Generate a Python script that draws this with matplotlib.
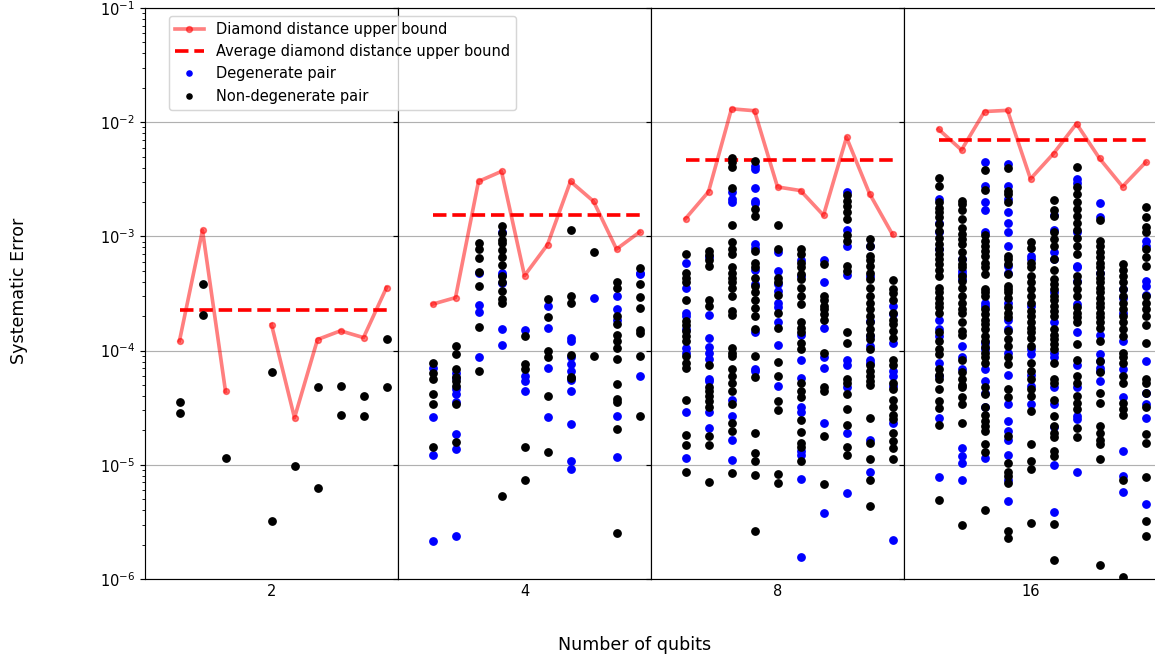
import numpy as np
import matplotlib
matplotlib.use("Agg")
import matplotlib.pyplot as plt
from matplotlib.lines import Line2D

qubits = ["2", "4", "8", "16"]
n_pairs = 10

# Diamond distance upper bound per pair (nan = missing)
bound_q2 = [1.22e-4, 1.13e-3, 4.4e-5, np.nan, 1.69e-4, 2.58e-5, 1.25e-4, 1.49e-4, 1.30e-4, 3.56e-4]
bound_q4 = [2.55e-4, 2.91e-4, 3.03e-3, 3.71e-3, 4.53e-4, 8.47e-4, 3.03e-3, 2.03e-3, 7.74e-4, 1.09e-3]
bound_q8 = [1.43e-3, 2.46e-3, 1.31e-2, 1.26e-2, 2.71e-3, 2.52e-3, 1.53e-3, 7.36e-3, 2.37e-3, 1.04e-3]
bound_q16 = [8.68e-3, 5.71e-3, 1.24e-2, 1.27e-2, 3.19e-3, 5.31e-3, 9.71e-3, 4.82e-3, 2.73e-3, 4.44e-3]
avg_bound = [2.26e-4, 1.55e-3, 4.71e-3, 7.0e-3]

# Systematic errors, log10 values, one list per pair
deg_q2 = [[], [], [], [], [], [], [], [], [], []]
nondeg_q2 = [[-4.45, -4.55], [-3.42, -3.69], [-4.94], [], [-4.19, -5.49], [-5.01],
             [-4.32, -5.20], [-4.31, -4.56], [-4.40, -4.57], [-3.90, -4.32]]

deg_q4 = [
    [-4.15, -4.58, -4.91, -5.67],
    [-4.20, -4.24, -4.34, -4.38, -4.45, -4.73, -4.86, -5.62],
    [-3.32, -3.60, -3.66, -4.06],
    [-2.96, -3.32, -3.34, -3.41, -3.81, -3.95],
    [-3.82, -4.22, -4.27, -4.35],
    [-3.61, -3.80, -4.15, -4.58],
    [-3.89, -3.92, -4.06, -4.12, -4.18, -4.26, -4.35, -4.64, -4.97, -5.04],
    [-3.54],
    [-3.52, -3.64, -3.73, -4.57, -4.93],
    [-3.32, -3.33, -4.22]]
nondeg_q4 = [
    [-4.11, -4.20, -4.25, -4.38, -4.47, -4.84],
    [-3.96, -4.03, -4.16, -4.23, -4.27, -4.31, -4.47, -4.80],
    [-3.06, -3.11, -3.19, -3.31, -3.43, -3.79, -4.18],
    [-2.91, -2.97, -3.03, -3.06, -3.12, -3.18, -3.25, -3.35, -3.40, -3.48, -3.55, -3.58, -5.27],
    [-3.87, -4.12, -4.16, -4.84, -5.13],
    [-3.55, -3.71, -4.00, -4.06, -4.40, -4.89],
    [-2.94, -3.52, -3.58, -4.04, -4.23, -4.24],
    [-3.14, -4.05],
    [-3.40, -3.45, -3.70, -3.77, -3.86, -3.92, -3.98, -4.07, -4.29, -4.42, -4.45, -4.69, -5.60],
    [-3.28, -3.42, -3.53, -3.63, -3.82, -3.85, -4.05, -4.57]]

deg_q8 = [
    [-3.23, -3.45, -3.67, -3.70, -3.81, -3.98, -4.02, -4.54, -4.94],
    [-3.18, -3.69, -3.89, -3.97, -4.02, -4.07, -4.25, -4.27, -4.54, -4.68],
    [-2.61, -2.67, -2.70, -4.43, -4.57, -4.78, -4.96],
    [-2.38, -2.41, -2.58, -2.69, -2.71, -3.07, -3.10, -3.29, -3.42, -3.84, -4.16, -4.18],
    [-3.14, -3.30, -3.42, -3.48, -3.58, -3.62, -3.75, -3.95, -4.31],
    [-3.21, -3.35, -3.86, -4.08, -4.24, -4.49, -4.54, -4.88, -4.91, -5.12, -5.81],
    [-3.21, -3.40, -3.80, -4.06, -4.15, -4.63, -5.42],
    [-2.61, -2.94, -3.08, -3.34, -4.08, -4.13, -4.32, -4.72, -5.25],
    [-3.08, -3.35, -3.74, -3.87, -3.96, -4.08, -4.11, -4.78, -5.06],
    [-3.61, -3.68, -3.93, -4.18, -4.22, -4.31, -4.63, -5.66]]
nondeg_q8 = [
    [-3.15, -3.32, -3.36, -3.40, -3.56, -3.74, -3.78, -3.83, -3.87, -3.92, -4.05, -4.11, -4.15,
     -4.43, -4.74, -4.83, -5.06],
    [-3.13, -3.16, -3.21, -3.26, -3.56, -3.61, -4.13, -4.32, -4.35, -4.40, -4.44, -4.49, -4.75,
     -4.83, -5.15],
    [-2.31, -2.35, -2.39, -2.58, -2.90, -3.05, -3.11, -3.15, -3.27, -3.32, -3.36, -3.40, -3.45,
     -3.52, -3.65, -3.69, -3.98, -4.02, -4.05, -4.16, -4.22, -4.28, -4.35, -4.47, -4.63, -4.70, -5.07],
    [-2.34, -2.76, -2.82, -3.13, -3.23, -3.27, -3.36, -3.43, -3.49, -3.56, -3.63, -3.70, -3.81,
     -4.05, -4.23, -4.72, -4.90, -4.97, -5.09, -5.58],
    [-2.90, -3.11, -3.36, -3.40, -3.51, -3.67, -3.80, -4.10, -4.22, -4.44, -4.52, -5.08, -5.16],
    [-3.11, -3.15, -3.23, -3.27, -3.33, -3.37, -3.45, -3.52, -3.59, -3.75, -3.80, -3.84, -3.93,
     -3.99, -4.28, -4.35, -4.41, -4.61, -4.71, -4.81, -4.84, -4.97],
    [-3.24, -3.52, -3.56, -3.61, -3.64, -3.68, -3.73, -4.02, -4.32, -4.35, -4.75, -5.17],
    [-2.64, -2.69, -2.73, -2.79, -2.85, -2.99, -3.04, -3.26, -3.30, -3.84, -3.93, -4.25, -4.28,
     -4.38, -4.51, -4.65, -4.84, -4.91],
    [-3.02, -3.08, -3.17, -3.21, -3.26, -3.32, -3.37, -3.45, -3.52, -3.58, -3.64, -3.70, -3.75,
     -3.81, -3.86, -3.90, -3.99, -4.13, -4.18, -4.22, -4.27, -4.30, -4.59, -4.81, -4.95, -5.13, -5.36],
    [-3.38, -3.46, -3.50, -3.56, -3.67, -3.73, -3.77, -3.83, -3.89, -4.08, -4.13, -4.28, -4.34,
     -4.43, -4.49, -4.56, -4.60, -4.72, -4.79, -4.85, -4.95]]

deg_q16 = [
    [-2.67, -2.88, -2.96, -3.11, -3.73, -3.81, -3.87, -4.11, -4.22, -4.59, -5.11],
    [-3.20, -3.30, -3.33, -3.37, -3.96, -4.06, -4.16, -4.85, -4.92, -4.98, -5.13],
    [-2.35, -2.56, -2.70, -2.77, -2.96, -3.58, -3.61, -3.93, -3.99, -4.16, -4.27, -4.37, -4.49, -4.94],
    [-2.37, -2.56, -2.67, -2.79, -2.88, -2.96, -3.08, -3.26, -3.32, -3.58, -3.73, -3.81, -4.02,
     -4.21, -4.47, -4.62, -4.70, -4.78, -4.91, -5.13, -5.32],
    [-3.17, -3.20, -3.61, -3.99, -4.03, -4.21, -4.31, -4.47],
    [-2.81, -2.94, -3.14, -3.20, -3.49, -3.75, -4.02, -4.06, -4.32, -4.47, -4.67, -5.00, -5.41],
    [-2.50, -2.53, -2.96, -3.26, -3.27, -3.39, -3.59, -3.84, -4.13, -4.32, -4.57, -4.60, -5.06],
    [-2.71, -2.83, -3.32, -3.86, -4.03, -4.09, -4.15, -4.18, -4.27],
    [-3.46, -3.54, -3.67, -3.92, -4.16, -4.41, -4.88, -5.10, -5.24],
    [-3.04, -3.08, -3.39, -3.43, -3.51, -4.09, -4.37, -4.47, -4.59, -5.34]]
nondeg_q16 = [
    [-2.49, -2.56, -2.70, -2.75, -2.79, -2.83, -2.89, -2.95, -3.01, -3.07, -3.11, -3.15, -3.20,
     -3.24, -3.29, -3.35, -3.45, -3.49, -3.54, -3.58, -3.62, -3.67, -3.84, -3.92, -3.99, -4.03,
     -4.16, -4.21, -4.25, -4.34, -4.44, -4.50, -4.65, -5.31],
    [-2.69, -2.72, -2.77, -2.85, -2.93, -2.98, -3.02, -3.07, -3.14, -3.20, -3.24, -3.27, -3.35,
     -3.39, -3.45, -3.52, -3.58, -3.64, -3.67, -3.75, -3.83, -3.86, -4.08, -4.19, -4.25, -4.30,
     -4.32, -4.41, -4.47, -4.63, -5.53],
    [-2.42, -2.59, -2.99, -3.04, -3.08, -3.13, -3.17, -3.23, -3.27, -3.33, -3.46, -3.49, -3.52,
     -3.64, -3.68, -3.73, -3.77, -3.81, -3.87, -3.92, -3.97, -4.02, -4.06, -4.11, -4.32, -4.38,
     -4.49, -4.56, -4.62, -4.66, -4.70, -4.82, -4.89, -5.40],
    [-2.40, -2.60, -2.63, -2.70, -3.17, -3.20, -3.24, -3.33, -3.43, -3.46, -3.49, -3.54, -3.62,
     -3.67, -3.71, -3.83, -3.90, -3.96, -4.06, -4.12, -4.34, -4.41, -4.75, -4.98, -5.06, -5.10,
     -5.16, -5.58, -5.64],
    [-3.05, -3.10, -3.23, -3.27, -3.35, -3.40, -3.46, -3.52, -3.58, -3.65, -3.70, -3.75, -3.80,
     -3.84, -3.89, -3.96, -4.11, -4.18, -4.25, -4.34, -4.40, -4.53, -4.82, -4.97, -5.04, -5.51],
    [-2.68, -2.77, -2.82, -2.96, -3.02, -3.08, -3.20, -3.29, -3.37, -3.42, -3.46, -3.52, -3.56,
     -3.61, -3.65, -3.70, -3.81, -3.86, -3.90, -3.94, -3.99, -4.11, -4.25, -4.28, -4.43, -4.57,
     -4.66, -4.72, -4.76, -4.88, -4.92, -5.52, -5.83],
    [-2.39, -2.57, -2.63, -2.70, -2.76, -2.82, -2.88, -2.94, -3.01, -3.08, -3.15, -3.35, -3.40,
     -3.46, -3.52, -3.62, -3.67, -3.71, -3.75, -3.94, -4.08, -4.22, -4.28, -4.40, -4.46, -4.51,
     -4.68, -4.76],
    [-2.86, -3.04, -3.08, -3.14, -3.18, -3.23, -3.27, -3.32, -3.36, -3.40, -3.45, -3.49, -3.54,
     -3.58, -3.62, -3.67, -3.71, -3.75, -3.80, -3.92, -4.09, -4.19, -4.37, -4.46, -4.66, -4.72,
     -4.78, -4.82, -4.95, -5.88],
    [-3.24, -3.29, -3.35, -3.40, -3.46, -3.52, -3.58, -3.64, -3.70, -3.75, -3.81, -3.87, -4.02,
     -4.06, -4.11, -4.22, -4.28, -4.46, -4.51, -4.56, -5.13, -5.98],
    [-2.74, -2.83, -2.92, -2.96, -3.11, -3.18, -3.26, -3.52, -3.58, -3.64, -3.70, -3.78, -3.93,
     -4.25, -4.28, -4.37, -4.49, -4.73, -4.81, -5.11, -5.49, -5.62]]

bounds = [bound_q2, bound_q4, bound_q8, bound_q16]
degs = [deg_q2, deg_q4, deg_q8, deg_q16]
nondegs = [nondeg_q2, nondeg_q4, nondeg_q8, nondeg_q16]

W, H, DPI = 1155, 657, 105
fig = plt.figure(figsize=(W / DPI, H / DPI), dpi=DPI)

left_px = [145, 398, 651, 904]
panel_w = 253
ax_bottom, ax_top = 579, 8
axes = []
for i, lp in enumerate(left_px):
    ax = fig.add_axes([lp / W, (H - ax_bottom) / H, panel_w / W, (ax_bottom - ax_top) / H])
    axes.append(ax)

x = np.arange(n_pairs)
for i, ax in enumerate(axes):
    ax.set_yscale("log")
    ax.plot(x, bounds[i], "-o", color="red", alpha=0.5, lw=2.5, ms=4,
            label="Diamond distance upper bound", zorder=2)
    ax.plot([x[0], x[-1]], [avg_bound[i]] * 2, "--", color="red", lw=2.5,
            label="Average diamond distance upper bound", zorder=2)
    dx = np.concatenate([[p] * len(v) for p, v in enumerate(degs[i])] + [[]])
    dy = 10.0 ** np.concatenate([v for v in degs[i]] + [[]])
    nx = np.concatenate([[p] * len(v) for p, v in enumerate(nondegs[i])] + [[]])
    ny = 10.0 ** np.concatenate([v for v in nondegs[i]] + [[]])
    ax.plot(dx, dy, "o", color="blue", ms=5, ls="none", label="Degenerate pair", zorder=3)
    ax.plot(nx, ny, "o", color="black", ms=5, ls="none", label="Non-degenerate pair", zorder=3)
    ax.set_xlim(-1.5, 9.5)
    ax.set_ylim(1e-6, 1e-1)
    ax.set_xticks([4])
    ax.set_xticklabels([qubits[i]], fontsize=10)
    ax.tick_params(axis="x", length=0)
    ax.yaxis.grid(True, which="major", color="#b0b0b0", lw=0.8)
    ax.set_axisbelow(True)
    if i > 0:
        ax.tick_params(axis="y", which="both", labelleft=False)
        ax.tick_params(axis="y", which="minor", left=False)

axes[0].tick_params(axis="y", labelsize=10)

handles = [
    Line2D([], [], color="red", alpha=0.5, lw=2.5, marker="o", ms=4),
    Line2D([], [], color="red", lw=2.5, ls="--"),
    Line2D([], [], color="blue", marker="o", ls="none", ms=3.5),
    Line2D([], [], color="black", marker="o", ls="none", ms=3.5),
]
labels = ["Diamond distance upper bound", "Average diamond distance upper bound",
          "Degenerate pair", "Non-degenerate pair"]
fig.legend(handles, labels, loc="upper left", bbox_to_anchor=(169 / W, 1 - 16 / H),
           borderaxespad=0, fontsize=10)

fig.text(19 / W, 1 - 291 / H, "Systematic Error", rotation=90, ha="center", va="center", fontsize=12)
fig.text(635 / W, 1 - 645 / H, "Number of qubits", ha="center", va="center", fontsize=12)

fig.savefig("out.png", dpi=DPI)
